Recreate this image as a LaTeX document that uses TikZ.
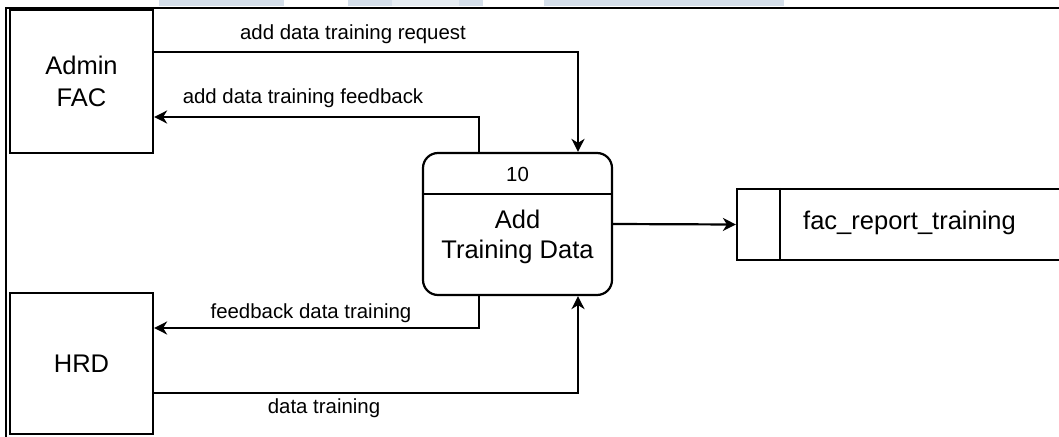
\documentclass[tikz,border=0pt]{standalone}
\usepackage{fontspec}
\setmainfont{Liberation Sans}
\usetikzlibrary{arrows.meta}
\definecolor{band}{HTML}{D5DFEA}
\definecolor{bandlight}{HTML}{E6ECF2}
\tikzset{
  ent/.style={draw, line width=2.2pt, minimum width=143pt, inner sep=0pt, align=center, font=\fontsize{25.5}{32}\selectfont},
  arr/.style={line width=2.2pt, -{Stealth[length=13pt,width=13pt,inset=4pt]}},
  lbl/.style={font=\fontsize{20.4}{24}\selectfont, inner sep=0pt},
}
\begin{document}
\begin{tikzpicture}[x=1pt,y=-1pt]
\useasboundingbox (0,0) rectangle (1059,436);
\clip (0,0) rectangle (1059,436);
% pale band at top
\fill[band] (159,0) rectangle (284,6);
\fill[band] (348,0) rectangle (392,6);
\fill[bandlight] (392,0) rectangle (459,6);
\fill[band] (459,0) rectangle (483,6);
\fill[band] (544,0) rectangle (784,6);
% frame
\draw[line width=2.8pt] (5,8) -- (1065,8);
\draw[line width=2.2pt] (6,8) -- (6,440);
% entities
\node[ent, minimum height=143pt] (admin) at (81.5,81.5) {Admin\\FAC};
\node[ent, minimum height=141pt] (hrd) at (81.5,363.5) {HRD};
% process
\node[draw, line width=2.2pt, rounded corners=15pt, minimum width=189pt, minimum height=142pt, inner sep=0pt] (proc) at (517.5,224) {};
\draw[line width=2.2pt] (proc.west |- 0,194) coordinate (dl) -- (proc.east |- 0,194) coordinate (dr);
\node[lbl] (pid) at (517.5,174) {10};
\node[align=center, font=\fontsize{25.5}{30}\selectfont, inner sep=0pt] (pname) at (517.5,237) {Add\\Training Data};
% data store
\node[draw, line width=2.2pt, minimum width=343pt, minimum height=71pt, inner sep=0pt] (store) at (908.5,224.5) {};
\draw[line width=2.2pt] (store.north west -| 780,0) coordinate (st) -- (store.south west -| 780,0) coordinate (sb);
\node[anchor=west, font=\fontsize{25.5}{30}\selectfont, inner sep=0pt] (sname) at (803,223) {fac\_report\_training};
% connectors
\draw[arr] ([yshift=29.5pt]admin.east) -| ([xshift=60.5pt]proc.north);
\draw[arr] ([xshift=-38.5pt]proc.north) |- ([yshift=-35.5pt]admin.east);
\draw[arr] ([xshift=-38.5pt]proc.south) |- ([yshift=35.5pt]hrd.east);
\draw[arr] ([yshift=-29.5pt]hrd.east) -| ([xshift=60.5pt]proc.south);
\draw[arr] (proc.east) -- (store.west);
% labels
\node[lbl] (l1) at (353,34) {add data training request};
\node[lbl] (l2) at (303,98) {add data training feedback};
\node[lbl] (l3) at (311,313) {feedback data training};
\node[lbl] (l4) at (324,408) {data training};
\end{tikzpicture}
\end{document}
